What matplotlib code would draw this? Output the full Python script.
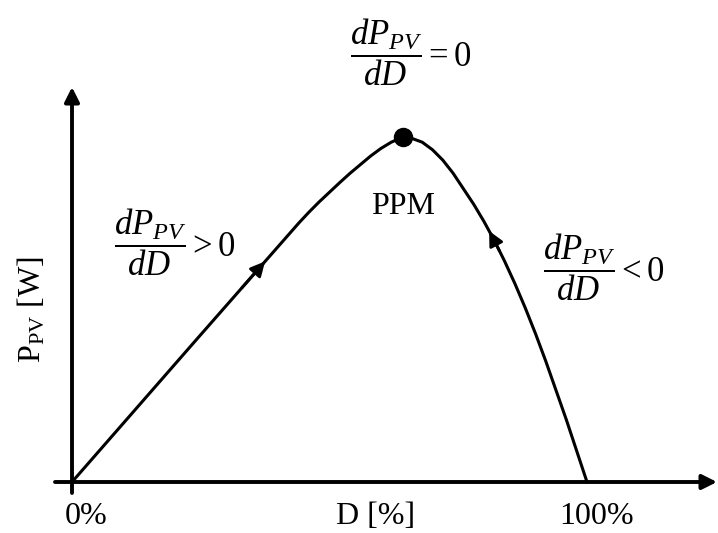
import numpy as np
import matplotlib
matplotlib.use("Agg")
import matplotlib.pyplot as plt

plt.rcParams['font.family'] = ['Liberation Serif', 'DejaVu Serif']
plt.rcParams['mathtext.fontset'] = 'custom'
plt.rcParams['mathtext.rm'] = 'Liberation Serif'
plt.rcParams['mathtext.it'] = 'Liberation Serif:italic'

# P-V curve vs duty cycle (peak normalised to 100)
duty = [0, 24, 44, 46, 48, 50, 52, 54, 56, 58, 60, 62, 64, 66, 68, 70, 72,
        74, 76, 78, 80, 82, 84, 86, 88, 90, 92, 94, 96, 98, 100]
power = [0, 41, 75, 78.2, 81.2, 84, 86.8, 89.5, 92, 94.5, 96.7, 98.5, 99.8,
         99.6, 98.5, 96.3, 93.3, 89.5, 85, 80.5, 75.5, 70, 64, 57.5, 50.5,
         43, 35, 26.5, 18, 9, 0]
peak_duty, peak_power = 64.2, 100

x_ticks = [0, 100]
x_tick_labels = ["0%", "100%"]

W, H = 718, 533
fig = plt.figure(figsize=(W / 100, H / 100), dpi=100)
ax = fig.add_axes([0, 0, 1, 1])
# pixel mapping: D=0 -> x 72, D=100 -> x 587 ; P=0 -> y 482, P=100 -> y 137
sx = (587 - 72) / 100
sy = (482 - 137) / 100
ax.set_xlim(-72 / sx, (W - 72) / sx)
ax.set_ylim(-(H - 482) / sy, 482 / sy)
ax.axis("off")


def px(x, y):
    return ((x - 72) / sx, (482 - y) / sy)


fs = 23
frac_fs = 25

# axes with arrows
axis_arrow = dict(arrowstyle="-|>", color="black", lw=2.8,
                  mutation_scale=22, shrinkA=0, shrinkB=0)
ax.annotate("", xy=px(717, 482), xytext=px(55, 482),
            arrowprops=axis_arrow, annotation_clip=False)
ax.annotate("", xy=px(72, 87), xytext=px(72, 493),
            arrowprops=axis_arrow, annotation_clip=False)

# curve
ax.plot(duty, power, color="black", lw=2.2, solid_joinstyle="round")
ax.plot(peak_duty, peak_power, "o", color="black", markersize=13)

# direction arrows on the curve
for d0, d1 in [(33, 37.5), (83.0, 81.0)]:
    p0 = np.interp(d0, duty, power)
    p1 = np.interp(d1, duty, power)
    ax.annotate("", xy=(d1, p1), xytext=(d0, p0),
                arrowprops=dict(arrowstyle="-|>", color="black", lw=2,
                                mutation_scale=22, shrinkA=0, shrinkB=0))

# annotations
ax.text(*px(350, 52), r"$\dfrac{dP_{PV}}{dD} = 0$", fontsize=frac_fs,
        ha="left", va="center")
ax.text(*px(114, 242), r"$\dfrac{dP_{PV}}{dD} > 0$", fontsize=frac_fs,
        ha="left", va="center")
ax.text(*px(543, 267), r"$\dfrac{dP_{PV}}{dD} < 0$", fontsize=frac_fs,
        ha="left", va="center")
ax.text(*px(403, 207), "PPM", fontsize=fs, ha="center", va="center")

# axis labels
for t, lab in zip(x_ticks, x_tick_labels):
    ax.text(t + 14 / sx * (1 if t == 0 else 0.65), -34 / sy, lab, fontsize=fs,
            ha="center", va="center")
ax.text(*px(376, 516), "D [%]", fontsize=fs, ha="center", va="center")
ax.text(*px(32, 310), r"P$_{\rm PV}$ [W]", fontsize=fs, ha="center", va="center",
        rotation=90)

fig.savefig("out.png", dpi=100)
